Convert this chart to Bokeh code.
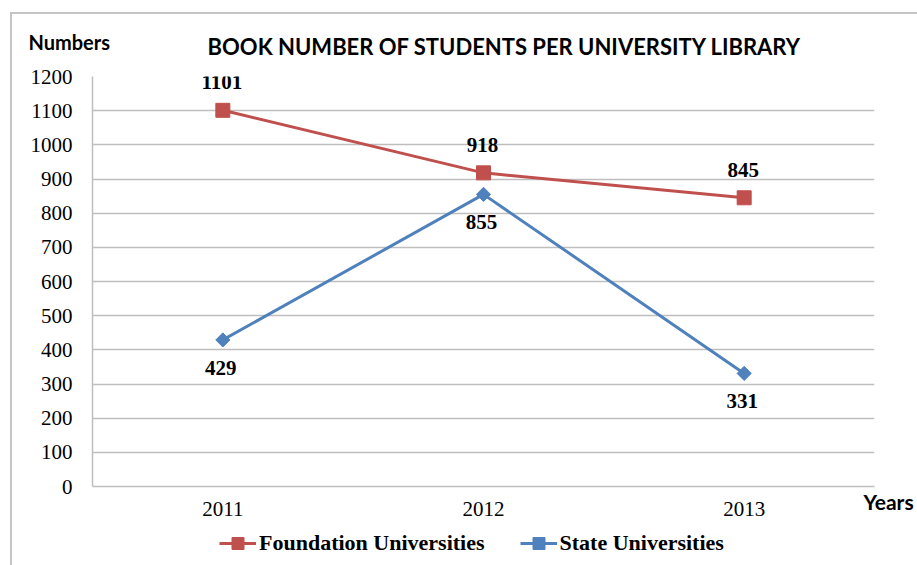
import math
from bokeh.plotting import figure
from bokeh.layouts import column
from bokeh.models import (Label, Legend, LegendItem, FixedTicker, ColumnDataSource,
                          LinearAxis, Range1d, FactorRange)
from bokeh.core.properties import value
from bokeh.embed import file_html
from bokeh.resources import INLINE

years = ["2011", "2012", "2013"]
foundation = [1101, 918, 845]
state = [429, 855, 331]
y_ticks = list(range(0, 1300, 100))
series_names = ["Foundation Universities", "State Universities"]
title_text = "BOOK NUMBER OF STUDENTS PER UNIVERSITY LIBRARY"

RED = "#C0504D"
BLUE = "#4F81BD"
GRID = "#BEBEBE"
SERIF = "Liberation Serif"
SANS = "Lato"
W = 905
X0, Y0 = 12, 14          # page position of the layout's content
H0, H1, H2 = 50, 464, 37


def bare(fig):
    fig.outline_line_color = None
    fig.xgrid.grid_line_color = None
    fig.ygrid.grid_line_color = None


# header strip: title and y-axis caption (data units = page pixels)
p0 = figure(width=W, height=H0, x_range=Range1d(X0, X0 + W), y_range=Range1d(Y0 + H0, Y0),
            x_axis_type=None, y_axis_type=None, output_backend="svg", toolbar_location=None,
            min_border_left=0, min_border_right=0, min_border_top=0, min_border_bottom=0,
            frame_align=False)
bare(p0)
p0.add_layout(Label(x=28, y=41, text="Numbers", text_font=SANS, text_font_style="bold",
                    text_font_size="20px", text_align="left", text_baseline="middle",
                    text_color="#000000"))
p0.add_layout(Label(x=504, y=46, text=title_text, text_font=SANS, text_font_style="bold",
                    text_font_size="22px", text_align="center", text_baseline="middle",
                    text_color="#000000"))

# main chart
p = figure(width=W, height=H1, x_range=years, y_range=(0, 1200),
           output_backend="svg", toolbar_location=None, frame_align=False,
           min_border_left=80, min_border_right=43, min_border_top=12, min_border_bottom=42)
p.outline_line_color = None
p.xgrid.grid_line_color = None
p.ygrid.grid_line_color = GRID
p.ygrid.grid_line_width = 1.5
p.yaxis.ticker = FixedTicker(ticks=y_ticks)
for ax in (p.xaxis, p.yaxis):
    ax.axis_line_color = GRID
    ax.axis_line_width = 1.5
    ax.major_tick_line_color = None
    ax.minor_tick_line_color = None
    ax.major_tick_out = 0
    ax.major_tick_in = 0
    ax.major_label_text_font = SERIF
    ax.major_label_text_font_size = "21px"
    ax.major_label_text_color = "#000000"
p.yaxis.major_label_standoff = 20
p.xaxis.major_label_standoff = 15

ry = LinearAxis(ticker=FixedTicker(ticks=[]), axis_line_color=None,
                major_tick_line_color=None, minor_tick_line_color=None,
                major_tick_out=0, major_tick_in=0, major_label_standoff=0,
                axis_label="\nYears", axis_label_orientation="horizontal",
                axis_label_align="start", axis_label_standoff=-11,
                axis_label_text_font=SANS, axis_label_text_font_style="bold",
                axis_label_text_font_size="21px", axis_label_text_color="#000000")
p.add_layout(ry, "right")

src_f = ColumnDataSource(dict(x=years, y=foundation, t=[str(v) for v in foundation]))
src_s = ColumnDataSource(dict(x=years, y=state, t=[str(v) for v in state]))

line_f = dict(line_color=RED, line_width=3)
mark_f = dict(marker="square", size=14, fill_color=RED, line_color=RED)
line_s = dict(line_color=BLUE, line_width=3)
mark_s = dict(marker="square", angle=math.pi / 4, size=10, fill_color=BLUE, line_color=BLUE)

p.line("x", "y", source=src_f, **line_f)
p.scatter("x", "y", source=src_f, **mark_f)
p.line("x", "y", source=src_s, **line_s)
p.scatter("x", "y", source=src_s, **mark_s)

lab = dict(text_align="center", text_baseline="middle", text_font=value(SERIF),
           text_font_size="21px", text_font_style="bold", text_color="#000000")
p.text("x", "y", text="t", source=src_f, y_offset=-28, x_offset=-1, **lab)
p.text("x", "y", text="t", source=src_s, y_offset=28, x_offset=-2, **lab)

# legend strip (its y range lies far above the data, so only the legend shows)
p2 = figure(width=W, height=H2, x_range=FactorRange(*years), y_range=Range1d(5000, 6000),
            x_axis_type=None, y_axis_type=None, output_backend="svg", toolbar_location=None,
            min_border_left=0, min_border_right=0, min_border_top=0, min_border_bottom=0,
            frame_align=False)
bare(p2)
r1 = [p2.line("x", "y", source=src_f, **line_f), p2.scatter("x", "y", source=src_f, **mark_f)]
r2 = [p2.line("x", "y", source=src_s, **line_s), p2.scatter("x", "y", source=src_s, **mark_s)]
legend = Legend(items=[LegendItem(label=series_names[0], renderers=r1),
                       LegendItem(label=series_names[1], renderers=r2)],
                orientation="horizontal", location=(207, 7), padding=0, margin=0,
                spacing=35, glyph_width=37, glyph_height=30, label_standoff=3,
                label_text_font=SERIF, label_text_font_style="bold", label_text_font_size="22px",
                label_text_color="#000000",
                border_line_color=None, background_fill_alpha=0)
p2.add_layout(legend, "center")

layout = column(p0, p, p2, spacing=0,
                styles={"border-top": "2px solid #C4C4C4", "border-left": "2px solid #C4C4C4",
                        "margin-left": "10px", "margin-top": "12px"})

open("out.html", "w").write(file_html(layout, INLINE))
